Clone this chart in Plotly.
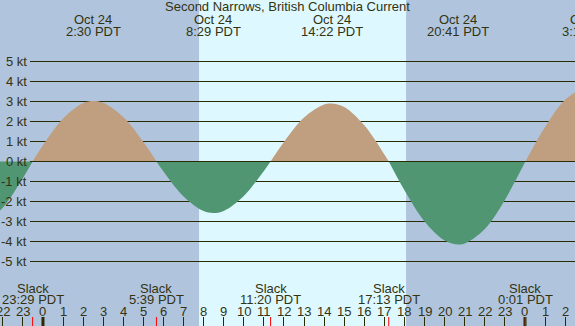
import plotly.graph_objects as go

# ---- data (hours relative to Oct 24 00:00 PDT, speed in knots) ----
hours = [-3.4, -3, -2, -1, -0.52,
         0, 1, 2, 2.5, 3, 4, 5, 5.65,
         6, 7, 8, 8.48, 9, 10, 11, 11.33,
         12, 13, 14, 14.37, 15, 16, 17, 17.22,
         18, 19, 20, 20.68, 21, 22, 23, 23.5, 24.02,
         25, 26, 27, 27.2]
knots = [-3.2, -3.12, -2.31, -0.83, 0,
         0.81, 2.15, 2.93, 3.03, 2.94, 2.22, 0.97, 0,
         -0.50, -1.75, -2.48, -2.57, -2.47, -1.72, -0.47, 0,
         0.98, 2.20, 2.85, 2.90, 2.73, 1.81, 0.35, 0,
         -1.44, -3.00, -3.95, -4.15, -4.10, -3.37, -1.92, -1.00, 0,
         1.73, 3.09, 3.71, 3.73]

max_hours = [2.5, 8.483, 14.367, 20.683, 27.2]
max_dates = ["Oct 24", "Oct 24", "Oct 24", "Oct 24", "Oct 25"]
max_times = ["2:30 PDT", "8:29 PDT", "14:22 PDT", "20:41 PDT", "3:12 PDT"]

slack_hours = [-0.517, 5.65, 11.333, 17.217, 24.017]
slack_times = ["23:29 PDT", "5:39 PDT", "11:20 PDT", "17:13 PDT", "0:01 PDT"]

sunrise, sunset = 7.77, 18.08
kt_levels = [5, 4, 3, 2, 1, 0, -1, -2, -3, -4, -5]
hour_ticks = list(range(-2, 27))

title = "Second Narrows, British Columbia Current"

# ---- styling ----
W, H = 575, 326
XMIN, XMAX = -2.14, 26.49
YMAX = 8.075
YMIN = YMAX - H / 20.0
NIGHT = "#b0c4de"
DAY = "#def8ff"
FLOOD = "#bf9f7f"
EBB = "#519673"
INK = "#2b2b00"
TXT = "#333311"
FONT = "Liberation Sans"

fig = go.Figure()

# split into half-cycles at slack (zero) points
segs = []
cur = []
for h, v in zip(hours, knots):
    cur.append((h, v))
    if v == 0 and len(cur) > 1:
        segs.append(cur)
        cur = [(h, v)]
if len(cur) > 1:
    segs.append(cur)

for seg in segs:
    xs = [p[0] for p in seg]
    ys = [p[1] for p in seg]
    positive = sum(ys) > 0
    col = FLOOD if positive else EBB
    fig.add_trace(go.Scatter(
        x=xs, y=ys, mode="lines", line=dict(width=0, color=col, shape="spline"),
        fill="tozeroy", fillcolor=col, hoverinfo="skip", showlegend=False))

shapes = []
# day background
shapes.append(dict(type="rect", xref="x", yref="paper", x0=sunrise, x1=sunset,
                   y0=0, y1=1, fillcolor=DAY, line=dict(width=0), layer="below"))
# grid lines
for k in kt_levels:
    shapes.append(dict(type="line", xref="paper", yref="y", x0=30 / W, x1=1,
                       y0=k, y1=k, line=dict(color=INK, width=1),
                       layer="above" if k == 0 else "below"))
# midnight ticks (thicker)
for h in hour_ticks:
    if h % 24 == 0:
        shapes.append(dict(type="line", xref="x", yref="paper", x0=h, x1=h,
                           y0=0, y1=9 / H, line=dict(color=INK, width=3)))
# slack ticks (red)
for h in slack_hours:
    shapes.append(dict(type="line", xref="x", yref="paper", x0=h, x1=h,
                       y0=0, y1=9 / H, line=dict(color="#ff0000", width=1)))

ann = []
def ypx(px):
    return 1 - px / H

def xpaper(h):
    return (h - XMIN) / (XMAX - XMIN)

tf = dict(family=FONT, size=13, color=TXT)
ann.append(dict(text=title, x=0.5, y=ypx(7), xref="paper", yref="paper",
                showarrow=False, font=tf, xanchor="center", yanchor="middle"))
for h, d, t in zip(max_hours, max_dates, max_times):
    ann.append(dict(text=d, x=xpaper(h), y=ypx(20), xref="paper", yref="paper",
                    showarrow=False, font=tf, xanchor="center", yanchor="middle"))
    ann.append(dict(text=t, x=xpaper(h), y=ypx(31), xref="paper", yref="paper",
                    showarrow=False, font=tf, xanchor="center", yanchor="middle"))
for h, t in zip(slack_hours, slack_times):
    ann.append(dict(text="Slack", x=h, y=ypx(288), xref="x", yref="paper",
                    showarrow=False, font=tf, xanchor="center", yanchor="middle"))
    ann.append(dict(text=t, x=h, y=ypx(299.5), xref="x", yref="paper",
                    showarrow=False, font=tf, xanchor="center", yanchor="middle"))
for h in hour_ticks:
    ann.append(dict(text=str(h % 24), x=h, y=ypx(311), xref="x", yref="paper",
                    showarrow=False, font=tf, xanchor="center", yanchor="middle"))
for k in kt_levels:
    ann.append(dict(text=f"{k} kt", x=29 / W, y=k, xref="paper", yref="y",
                    showarrow=False, font=tf, xanchor="right", yanchor="middle"))

fig.update_layout(
    width=W, height=H, autosize=False,
    margin=dict(l=0, r=0, t=0, b=0, pad=0),
    paper_bgcolor=NIGHT, plot_bgcolor=NIGHT,
    shapes=shapes, annotations=ann, showlegend=False,
    xaxis=dict(range=[XMIN, XMAX], showgrid=False, zeroline=False,
               showticklabels=False, ticks="inside", ticklen=9, tickwidth=1,
               tickcolor=INK, tick0=0, dtick=1, showline=False, fixedrange=True),
    yaxis=dict(range=[YMIN, YMAX], showgrid=False, zeroline=False,
               showticklabels=False, ticks="", showline=False, fixedrange=True),
)

fig.write_html("out.html", config={"displayModeBar": False},
               post_script="document.body.style.margin='0';document.body.style.overflow='hidden';")
